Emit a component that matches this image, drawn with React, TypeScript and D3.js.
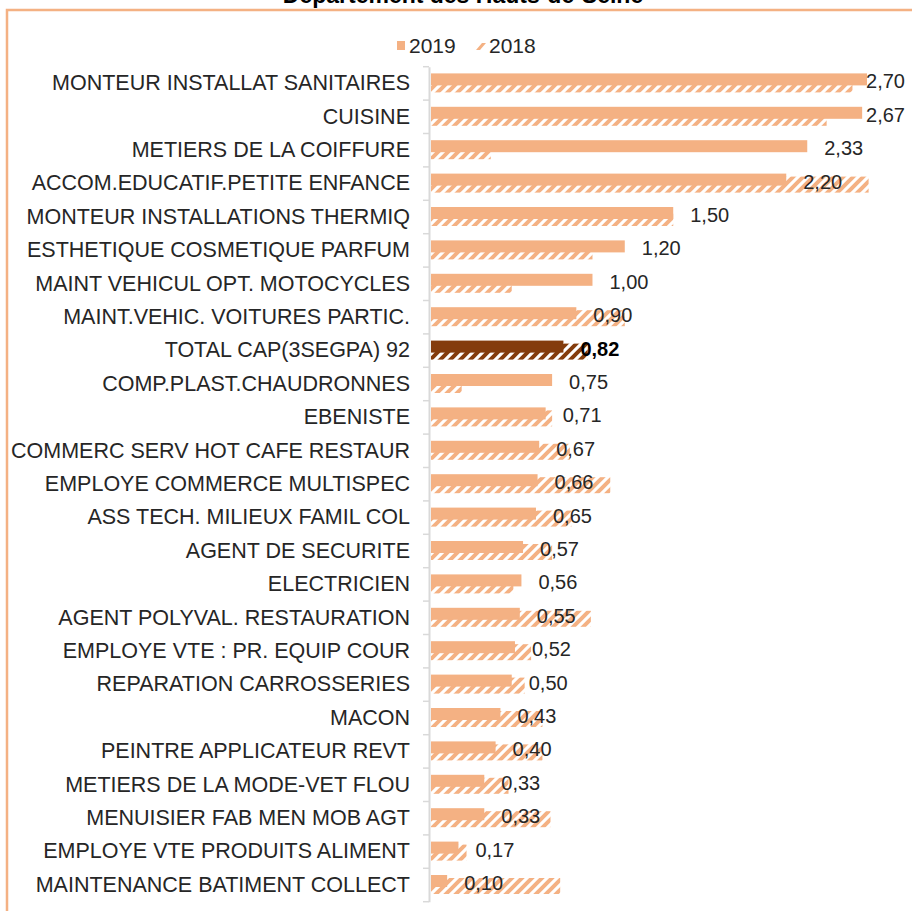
import React, { useEffect, useRef } from "react";
import * as d3 from "d3";

const categories = [
  "MONTEUR INSTALLAT SANITAIRES",
  "CUISINE",
  "METIERS DE LA COIFFURE",
  "ACCOM.EDUCATIF.PETITE ENFANCE",
  "MONTEUR INSTALLATIONS THERMIQ",
  "ESTHETIQUE COSMETIQUE PARFUM",
  "MAINT VEHICUL OPT. MOTOCYCLES",
  "MAINT.VEHIC. VOITURES PARTIC.",
  "TOTAL CAP(3SEGPA) 92",
  "COMP.PLAST.CHAUDRONNES",
  "EBENISTE",
  "COMMERC SERV HOT CAFE RESTAUR",
  "EMPLOYE COMMERCE MULTISPEC",
  "ASS TECH. MILIEUX FAMIL COL",
  "AGENT DE SECURITE",
  "ELECTRICIEN",
  "AGENT POLYVAL. RESTAURATION",
  "EMPLOYE VTE : PR. EQUIP COUR",
  "REPARATION CARROSSERIES",
  "MACON",
  "PEINTRE APPLICATEUR REVT",
  "METIERS DE LA MODE-VET FLOU",
  "MENUISIER FAB MEN MOB AGT",
  "EMPLOYE VTE PRODUITS ALIMENT",
  "MAINTENANCE BATIMENT COLLECT",
];

const values2019 = [
  2.7, 2.67, 2.33, 2.2, 1.5, 1.2, 1.0, 0.9, 0.82, 0.75, 0.71, 0.67, 0.66,
  0.65, 0.57, 0.56, 0.55, 0.52, 0.5, 0.43, 0.4, 0.33, 0.33, 0.17, 0.1,
];

const values2018 = [
  2.61, 2.45, 0.37, 2.71, 1.5, 1.0, 0.5, 1.2, 0.97, 0.19, 0.75, 0.86, 1.11,
  0.87, 0.75, 0.51, 0.99, 0.62, 0.58, 0.69, 0.69, 0.48, 0.74, 0.22, 0.8,
];

const seriesNames = ["2019", "2018"];
const totalLabel = "TOTAL CAP(3SEGPA) 92";

const App = () => {
  const chartRef = useRef<HTMLDivElement>(null);

  useEffect(() => {
    const width = 912;
    const height = 911;
    const plotRight = 905;
    const light = "#F4B183";
    const dark = "#843C0C";
    const textColor = "#262626";

    const x = d3.scaleLinear().domain([0, 2.7]).range([431, 867]);
    const y = d3.scaleBand().domain(categories).range([66.7, 901.7]).padding(0);

    const svg = d3
      .select(chartRef.current)
      .append("svg")
      .attr("width", width)
      .attr("height", height)
      .style("font-family", "'Liberation Sans', Arial, sans-serif");

    const defs = svg.append("defs");
    [
      ["hatch-light", light],
      ["hatch-dark", dark],
    ].forEach(([id, color]) => {
      defs
        .append("pattern")
        .attr("id", id)
        .attr("patternUnits", "userSpaceOnUse")
        .attr("width", 10)
        .attr("height", 10)
        .append("path")
        .attr("d", "M-2,2 L2,-2 M0,10 L10,0 M8,12 L12,8")
        .attr("stroke", color)
        .attr("stroke-width", 4);
    });

    // border + title (mostly cut off at the top)
    svg
      .append("rect")
      .attr("x", 7)
      .attr("y", 10)
      .attr("width", 930)
      .attr("height", 930)
      .attr("fill", "none")
      .attr("stroke", light)
      .attr("stroke-width", 2.5);

    svg
      .append("text")
      .attr("x", 463)
      .attr("y", 3)
      .attr("text-anchor", "middle")
      .style("font-size", "23px")
      .style("font-weight", "bold")
      .style("fill", "#000")
      .text("Département des Hauts-de-Seine");

    // legend
    const legend = svg.append("g").style("font-size", "21px").style("fill", textColor);
    legend.append("rect").attr("x", 397).attr("y", 41).attr("width", 8).attr("height", 9).attr("fill", light);
    legend.append("text").attr("x", 409).attr("y", 53).text(seriesNames[0]);
    legend
      .append("path")
      .attr("d", "M476,50 L482,43 L486,43 L480,50 Z")
      .attr("fill", light);
    legend.append("text").attr("x", 489).attr("y", 53).text(seriesNames[1]);

    const color = (c: string) => (c === totalLabel ? dark : light);

    // 2018 bars (hatched, behind)
    svg
      .selectAll("rect.b2018")
      .data(categories)
      .enter()
      .append("rect")
      .attr("class", "b2018")
      .attr("x", x(0))
      .attr("y", (d) => (y(d) as number) + y.bandwidth() / 2 - 7)
      .attr("width", (d, i) => x(values2018[i]) - x(0))
      .attr("height", 16)
      .attr("fill", (d) => (d === totalLabel ? "url(#hatch-dark)" : "url(#hatch-light)"));

    // 2019 bars (solid)
    svg
      .selectAll("rect.b2019")
      .data(categories)
      .enter()
      .append("rect")
      .attr("class", "b2019")
      .attr("x", x(0))
      .attr("y", (d) => (y(d) as number) + y.bandwidth() / 2 - 10)
      .attr("width", (d, i) => x(values2019[i]) - x(0))
      .attr("height", 12)
      .attr("fill", (d) => color(d));

    // value labels
    const fmt = d3.format(".2f");
    svg
      .selectAll("text.val")
      .data(categories)
      .enter()
      .append("text")
      .attr("class", "val")
      .attr("x", (d, i) => x(values2019[i]) + 17)
      .attr("y", (d) => (y(d) as number) + y.bandwidth() / 2 - 2)
      .attr("dy", "0.35em")
      .style("font-size", "20px")
      .style("font-weight", (d) => (d === totalLabel ? "bold" : "normal"))
      .style("fill", (d) => (d === totalLabel ? "#000" : textColor))
      .text((d, i) => fmt(values2019[i]).replace(".", ","))
      .each(function () {
        const t = this as SVGTextElement;
        const w = t.getComputedTextLength();
        const x0 = +t.getAttribute("x")!;
        if (x0 + w > plotRight) t.setAttribute("x", String(plotRight - w));
      });

    // category axis
    const axis = svg
      .append("g")
      .attr("transform", "translate(429,0)")
      .call(d3.axisLeft(y).tickSize(0).tickPadding(19));
    axis.select(".domain").attr("stroke", "#D9D9D9").attr("stroke-width", 2);
    axis
      .selectAll("text")
      .style("font-size", "21.5px")
      .style("font-family", "'Liberation Sans', Arial, sans-serif")
      .style("fill", textColor);

    svg
      .selectAll("line.tick-b")
      .data(d3.range(categories.length + 1))
      .enter()
      .append("line")
      .attr("class", "tick-b")
      .attr("x1", 423)
      .attr("x2", 429)
      .attr("y1", (i) => 66.7 + i * y.step())
      .attr("y2", (i) => 66.7 + i * y.step())
      .attr("stroke", "#D9D9D9")
      .attr("stroke-width", 1.5);

    return () => {
      svg.remove();
    };
  }, []);

  return (
    <div style={{ position: "absolute", left: 0, top: 0, background: "#fff" }}>
      <div ref={chartRef}></div>
    </div>
  );
};

export default App;
